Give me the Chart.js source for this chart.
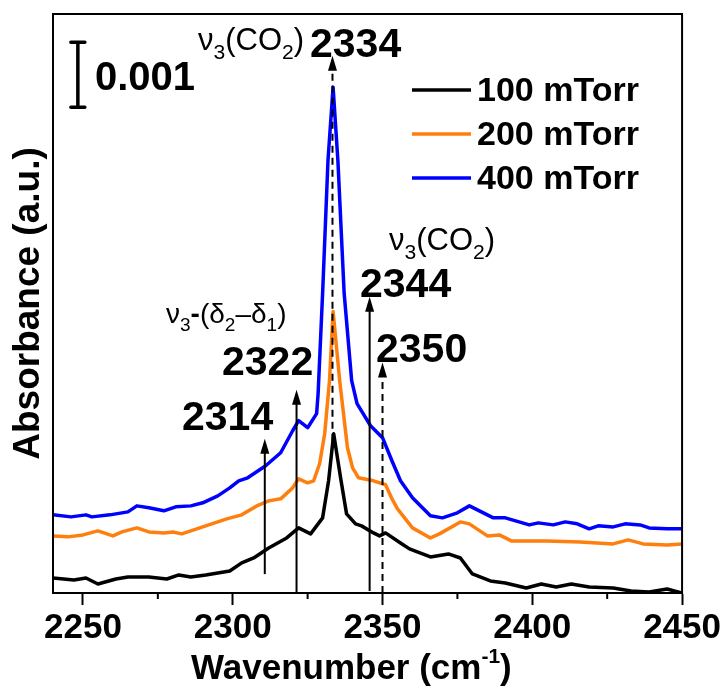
<!DOCTYPE html>
<html>
<head>
<meta charset="utf-8">
<script src="https://cdn.jsdelivr.net/npm/chart.js@4.4.0/dist/chart.umd.min.js"></script>
<style>
  html, body { margin: 0; padding: 0; background: #fff; }
</style>
</head>
<body>
<canvas id="c" width="723" height="688"></canvas>
<script>
// Values. Absorbance is in units of 0.001 (the scale bar = 1).
const xTicks = [2250, 2300, 2350, 2400, 2450];
const minorTicks = [2275, 2325, 2375, 2425];

const wn100 = [2240, 2247, 2251, 2255, 2261, 2265, 2272, 2278, 2282, 2286, 2291, 2295, 2299, 2303, 2307,
  2312, 2315, 2318, 2322, 2326, 2330, 2332, 2333.7, 2336, 2338, 2341, 2343, 2347, 2349, 2351, 2356, 2359,
  2366, 2372, 2376, 2380, 2386, 2391, 2398, 2403, 2408, 2413, 2419, 2427, 2433, 2439, 2445, 2450];
const abs100 = [0.231, 0.200, 0.231, 0.138, 0.215, 0.246, 0.246, 0.215, 0.277, 0.246, 0.277, 0.308, 0.338, 0.462, 0.538,
  0.692, 0.769, 0.846, 1.000, 0.908, 1.154, 1.723, 2.446, 1.769, 1.215, 1.062, 1.031, 0.923, 0.877, 0.923, 0.769, 0.677,
  0.554, 0.600, 0.538, 0.292, 0.185, 0.154, 0.077, 0.138, 0.092, 0.138, 0.092, 0.077, 0.031, 0.015, 0.062, 0.000];

const wn200 = [2240, 2245, 2250, 2255, 2260, 2263, 2268, 2272, 2277, 2280, 2283, 2288, 2293, 2298, 2303, 2308,
  2312, 2316, 2320, 2322, 2325, 2327, 2329, 2330.7, 2332.3, 2333.5, 2335.7, 2338.3, 2340, 2342, 2347, 2351, 2353,
  2355, 2360, 2366, 2369, 2376, 2379, 2385, 2389, 2393, 2405, 2416, 2427, 2432, 2437, 2445, 2450];
const abs200 = [0.877, 0.862, 0.892, 0.954, 0.877, 0.938, 1.000, 0.938, 0.923, 0.938, 0.908, 0.985, 1.062, 1.138, 1.200, 1.338,
  1.415, 1.446, 1.615, 1.754, 1.692, 1.723, 1.985, 2.446, 3.262, 4.323, 3.262, 2.231, 1.923, 1.769, 1.723, 1.662, 1.462,
  1.292, 1.000, 0.846, 0.908, 1.092, 1.062, 0.877, 0.892, 0.800, 0.800, 0.785, 0.754, 0.815, 0.754, 0.738, 0.754];

const wn400 = [2240, 2246, 2251, 2253, 2259, 2265, 2268, 2272, 2277, 2281, 2286, 2290, 2295, 2299, 2302, 2305,
  2311, 2316, 2320, 2322, 2325, 2328, 2328.5, 2330, 2331.8, 2333.5, 2335.1, 2337.2, 2339.7, 2341.5, 2346, 2350,
  2353, 2356, 2360, 2366, 2370, 2375, 2379, 2387, 2391, 2399, 2402, 2407, 2411, 2415, 2419, 2422, 2427, 2431,
  2436, 2439, 2445, 2450];
const abs400 = [1.200, 1.169, 1.200, 1.169, 1.200, 1.246, 1.338, 1.308, 1.262, 1.323, 1.338, 1.385, 1.492, 1.615, 1.723, 1.769,
  1.954, 2.154, 2.492, 2.646, 2.538, 2.754, 3.062, 4.600, 6.646, 7.769, 6.646, 4.600, 3.262, 2.908, 2.569, 2.385,
  2.046, 1.723, 1.462, 1.185, 1.154, 1.231, 1.338, 1.154, 1.154, 1.046, 1.077, 1.046, 1.092, 1.062, 0.985, 1.031, 1.015, 1.062,
  1.046, 1.000, 0.985, 0.985];

const seriesLabels = ['100 mTorr', '200 mTorr', '400 mTorr'];
const seriesColors = ['#000000', '#ff7f0e', '#0000ff'];

// peak marker arrows (wavenumber, from, to) in data units
const arrowX = [2310.7, 2321.3, 2333.3, 2345.7, 2350];
const arrowFrom = [0.29, 0, 2.34, 0.03, 0];
const arrowTo = [2.37, 3.12, 8.25, 4.55, 3.54];
const arrowDashed = [false, false, true, false, true];

// scale bar: 0.001 absorbance
const barX = 2248.3;
const barBottom = 7.46;
const barSize = 1;

const FONT = "'Liberation Sans', Arial, sans-serif";

function pts(xs, ys) { return xs.map((x, i) => ({ x, y: ys[i] })); }

// text with sub/superscripts: parts = [[text, kind]] kind: 0 normal, 1 sub, 2 sup, 3 bold
function rich(ctx, x, y, parts, size, weight) {
  ctx.textAlign = 'left';
  ctx.textBaseline = 'alphabetic';
  parts.forEach(([t, k]) => {
    let s = size, dy = 0, w = weight || 'normal';
    if (k === 1) { s = size * 0.68; dy = size * 0.3; }
    if (k === 2) { s = size * 0.6; dy = -size * 0.45; }
    if (k === 3) w = 'bold';
    ctx.font = w + ' ' + s + 'px ' + FONT;
    ctx.fillText(t, x, y + dy);
    x += ctx.measureText(t).width;
  });
}

const decor = {
  id: 'decor',
  afterDatasetsDraw(chart) {
    const { ctx, chartArea: a, scales: { x, y } } = chart;
    ctx.save();
    ctx.fillStyle = '#000';
    ctx.strokeStyle = '#000';

    // arrows
    arrowX.forEach((wx, i) => {
      const px = x.getPixelForValue(wx);
      const y0 = y.getPixelForValue(arrowFrom[i]);
      const y1 = y.getPixelForValue(arrowTo[i]);
      ctx.lineWidth = 2;
      ctx.setLineDash(arrowDashed[i] ? [7, 5] : []);
      ctx.beginPath();
      ctx.moveTo(px, y0);
      ctx.lineTo(px, y1 + 12);
      ctx.stroke();
      ctx.setLineDash([]);
      ctx.beginPath();
      ctx.moveTo(px, y1);
      ctx.lineTo(px - 4.5, y1 + 15);
      ctx.lineTo(px + 4.5, y1 + 15);
      ctx.closePath();
      ctx.fill();
    });

    // scale bar
    const bx = x.getPixelForValue(barX);
    const bt = y.getPixelForValue(barBottom + barSize);
    const bb = y.getPixelForValue(barBottom);
    ctx.lineWidth = 3.5;
    ctx.lineCap = 'round';
    ctx.beginPath();
    ctx.moveTo(bx, bt); ctx.lineTo(bx, bb);
    ctx.moveTo(bx - 7, bt); ctx.lineTo(bx + 7, bt);
    ctx.moveTo(bx - 7, bb); ctx.lineTo(bx + 7, bb);
    ctx.stroke();
    ctx.lineCap = 'butt';

    ctx.font = 'bold 40px ' + FONT;
    ctx.textAlign = 'left';
    ctx.fillText('0.001', 95, 90);

    // peak labels
    rich(ctx, 198, 50, [['ν', 0], ['3', 1], ['(CO', 0], ['2', 1], [')', 0]], 31);
    rich(ctx, 389, 250, [['ν', 0], ['3', 1], ['(CO', 0], ['2', 1], [')', 0]], 31);
    rich(ctx, 166, 323, [['ν', 0], ['3', 1], ['-', 3], ['(δ', 0], ['2', 1], ['–δ', 0], ['1', 1], [')', 0]], 28);
    ctx.font = 'bold 41px ' + FONT;
    ctx.fillText('2334', 310, 57);
    ctx.fillText('2344', 360, 297);
    ctx.fillText('2350', 376, 362);
    ctx.fillText('2322', 222, 375);
    ctx.fillText('2314', 182, 430);

    // legend
    chart.data.datasets.forEach((ds, i) => {
      const ly = 90 + i * 44;
      ctx.strokeStyle = ds.borderColor;
      ctx.lineWidth = 3.5;
      ctx.beginPath();
      ctx.moveTo(412, ly); ctx.lineTo(471, ly);
      ctx.stroke();
      ctx.fillStyle = '#000';
      ctx.font = 'bold 34px ' + FONT;
      ctx.fillText(ds.label, 477, ly + 11);
    });

    // frame + minor ticks
    ctx.strokeStyle = '#000';
    ctx.lineWidth = 2;
    ctx.strokeRect(a.left, a.top, a.right - a.left, a.bottom - a.top);
    minorTicks.forEach(v => {
      const px = x.getPixelForValue(v);
      ctx.beginPath();
      ctx.moveTo(px, a.bottom); ctx.lineTo(px, a.bottom + 6);
      ctx.stroke();
    });

    // x title with superscript
    rich(ctx, 191, 679, [['Wavenumber (cm', 0], ['-1', 2], [')', 0]], 35, 'bold');
    ctx.restore();
  }
};

new Chart(document.getElementById('c'), {
  type: 'line',
  data: {
    datasets: [
      { label: seriesLabels[0], data: pts(wn100, abs100), borderColor: seriesColors[0] },
      { label: seriesLabels[1], data: pts(wn200, abs200), borderColor: seriesColors[1] },
      { label: seriesLabels[2], data: pts(wn400, abs400), borderColor: seriesColors[2] }
    ].map(d => Object.assign(d, {
      borderWidth: 3.5, borderJoinStyle: 'round', borderCapStyle: 'round',
      pointRadius: 0, fill: false, tension: 0
    }))
  },
  options: {
    responsive: false,
    animation: false,
    devicePixelRatio: 1,
    layout: { padding: { top: 14, right: 40, left: 0, bottom: 0 } },
    plugins: { legend: { display: false }, tooltip: { enabled: false } },
    scales: {
      x: {
        type: 'linear',
        min: 2240,
        max: 2450,
        afterBuildTicks: (s) => { s.ticks = xTicks.map(v => ({ value: v })); },
        afterFit: (s) => { s.height = 95; },
        ticks: { color: '#000', padding: 2, maxRotation: 0, callback: (v) => String(v),
          font: { family: FONT, size: 35, weight: 'bold' } },
        grid: { drawOnChartArea: false, tickLength: 12, color: '#000', tickWidth: 2 },
        border: { display: true, color: '#000', width: 2 }
      },
      y: {
        min: 0,
        max: 8.892,
        afterFit: (s) => { s.width = 53; },
        ticks: { display: false },
        grid: { display: false },
        border: { display: true, color: '#000', width: 2 },
        title: { display: true, text: 'Absorbance (a.u.)', color: '#000', padding: { top: 7, bottom: 0 },
          font: { family: FONT, size: 37, weight: 'bold' } }
      }
    }
  },
  plugins: [decor]
});
</script>
</body>
</html>
